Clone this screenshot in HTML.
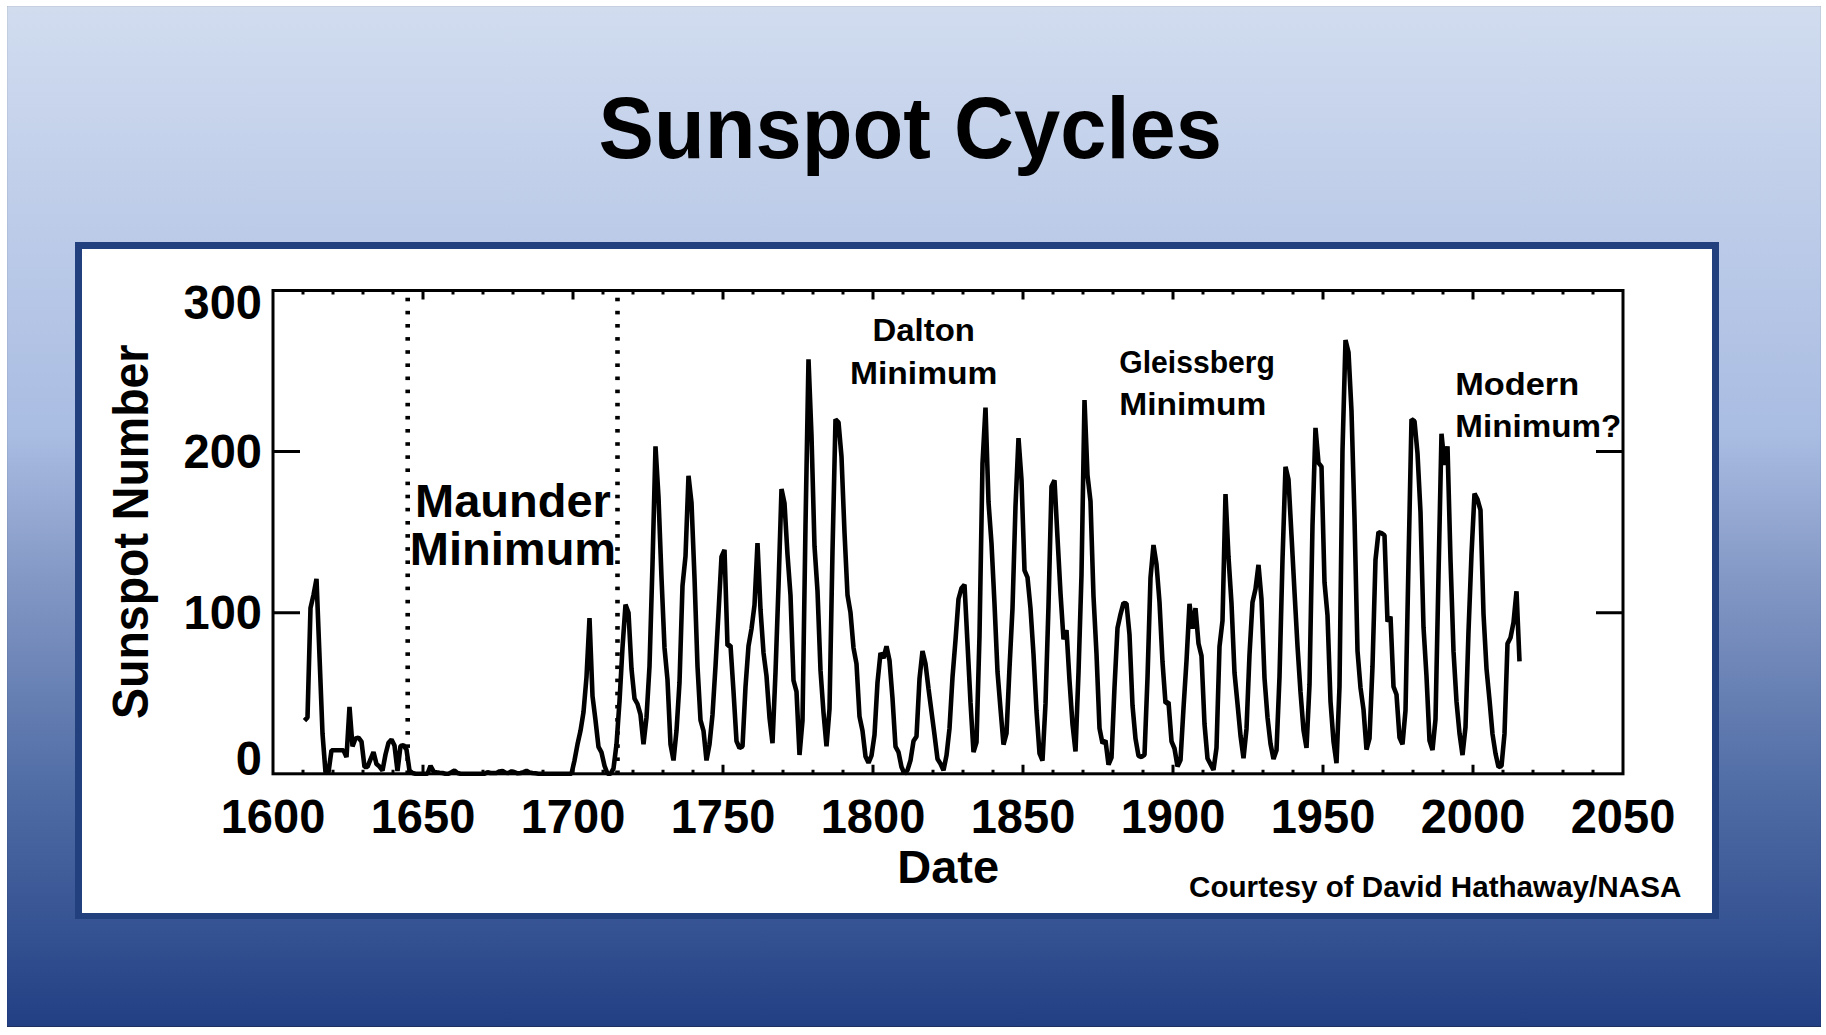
<!DOCTYPE html>
<html><head><meta charset="utf-8">
<style>
html,body{margin:0;padding:0;background:#fff;width:1826px;height:1035px;overflow:hidden}
svg{display:block;position:absolute;left:0;top:0}
text{font-family:"Liberation Sans",sans-serif;font-weight:bold;fill:#000}
</style></head><body>
<svg width="1826" height="1035" viewBox="0 0 1826 1035">
<defs>
<linearGradient id="bg" x1="0" y1="0" x2="0" y2="1">
<stop offset="0" stop-color="#D1DCEF"/>
<stop offset="0.42" stop-color="#A9BCE2"/>
<stop offset="0.565" stop-color="#8297C4"/>
<stop offset="0.75" stop-color="#5470A8"/>
<stop offset="1" stop-color="#223F84"/>
</linearGradient>
</defs>
<rect x="7" y="6" width="1814" height="1021" fill="url(#bg)"/>
<rect x="7" y="1026" width="1814" height="1" fill="#1E2F60"/>
<rect x="7" y="6" width="1814" height="1" fill="#C6D0E2"/>
<rect x="7" y="6" width="1" height="1021" fill="#000" fill-opacity="0.06"/>
<rect x="1820" y="6" width="1" height="1021" fill="#000" fill-opacity="0.06"/>
<text transform="translate(910.25,157.7) scale(0.953,1)" font-size="87.2" text-anchor="middle">Sunspot Cycles</text>
<rect x="75" y="242" width="1644" height="677" fill="#22407E"/>
<rect x="82" y="249" width="1630" height="664" fill="#fff"/>
<rect x="273" y="290.5" width="1350" height="483.3" fill="none" stroke="#000" stroke-width="3"/>
<path d="M303,773.8 v-4 M303,290.5 v4 M333,773.8 v-4 M333,290.5 v4 M363,773.8 v-4 M363,290.5 v4 M393,773.8 v-4 M393,290.5 v4 M423,773.8 v-9 M423,290.5 v9 M453,773.8 v-4 M453,290.5 v4 M483,773.8 v-4 M483,290.5 v4 M513,773.8 v-4 M513,290.5 v4 M543,773.8 v-4 M543,290.5 v4 M573,773.8 v-9 M573,290.5 v9 M603,773.8 v-4 M603,290.5 v4 M633,773.8 v-4 M633,290.5 v4 M663,773.8 v-4 M663,290.5 v4 M693,773.8 v-4 M693,290.5 v4 M723,773.8 v-9 M723,290.5 v9 M753,773.8 v-4 M753,290.5 v4 M783,773.8 v-4 M783,290.5 v4 M813,773.8 v-4 M813,290.5 v4 M843,773.8 v-4 M843,290.5 v4 M873,773.8 v-9 M873,290.5 v9 M903,773.8 v-4 M903,290.5 v4 M933,773.8 v-4 M933,290.5 v4 M963,773.8 v-4 M963,290.5 v4 M993,773.8 v-4 M993,290.5 v4 M1023,773.8 v-9 M1023,290.5 v9 M1053,773.8 v-4 M1053,290.5 v4 M1083,773.8 v-4 M1083,290.5 v4 M1113,773.8 v-4 M1113,290.5 v4 M1143,773.8 v-4 M1143,290.5 v4 M1173,773.8 v-9 M1173,290.5 v9 M1203,773.8 v-4 M1203,290.5 v4 M1233,773.8 v-4 M1233,290.5 v4 M1263,773.8 v-4 M1263,290.5 v4 M1293,773.8 v-4 M1293,290.5 v4 M1323,773.8 v-9 M1323,290.5 v9 M1353,773.8 v-4 M1353,290.5 v4 M1383,773.8 v-4 M1383,290.5 v4 M1413,773.8 v-4 M1413,290.5 v4 M1443,773.8 v-4 M1443,290.5 v4 M1473,773.8 v-9 M1473,290.5 v9 M1503,773.8 v-4 M1503,290.5 v4 M1533,773.8 v-4 M1533,290.5 v4 M1563,773.8 v-4 M1563,290.5 v4 M1593,773.8 v-4 M1593,290.5 v4 M273,612.7 h27 M1623,612.7 h-27 M273,451.6 h27 M1623,451.6 h-27" stroke="#000" stroke-width="3" fill="none"/>
<g fill="#000"><rect x="405.4" y="297.7" width="4.6" height="3.6"/><rect x="405.4" y="310.8" width="4.6" height="3.6"/><rect x="405.4" y="324.0" width="4.6" height="3.6"/><rect x="405.4" y="337.1" width="4.6" height="3.6"/><rect x="405.4" y="350.2" width="4.6" height="3.6"/><rect x="405.4" y="363.4" width="4.6" height="3.6"/><rect x="405.4" y="376.5" width="4.6" height="3.6"/><rect x="405.4" y="389.6" width="4.6" height="3.6"/><rect x="405.4" y="402.8" width="4.6" height="3.6"/><rect x="405.4" y="415.9" width="4.6" height="3.6"/><rect x="405.4" y="429.0" width="4.6" height="3.6"/><rect x="405.4" y="442.2" width="4.6" height="3.6"/><rect x="405.4" y="455.3" width="4.6" height="3.6"/><rect x="405.4" y="468.4" width="4.6" height="3.6"/><rect x="405.4" y="481.6" width="4.6" height="3.6"/><rect x="405.4" y="494.7" width="4.6" height="3.6"/><rect x="405.4" y="507.8" width="4.6" height="3.6"/><rect x="405.4" y="521.0" width="4.6" height="3.6"/><rect x="405.4" y="534.1" width="4.6" height="3.6"/><rect x="405.4" y="547.2" width="4.6" height="3.6"/><rect x="405.4" y="560.4" width="4.6" height="3.6"/><rect x="405.4" y="573.5" width="4.6" height="3.6"/><rect x="405.4" y="586.6" width="4.6" height="3.6"/><rect x="405.4" y="599.8" width="4.6" height="3.6"/><rect x="405.4" y="612.9" width="4.6" height="3.6"/><rect x="405.4" y="626.1" width="4.6" height="3.6"/><rect x="405.4" y="639.2" width="4.6" height="3.6"/><rect x="405.4" y="652.3" width="4.6" height="3.6"/><rect x="405.4" y="665.5" width="4.6" height="3.6"/><rect x="405.4" y="678.6" width="4.6" height="3.6"/><rect x="405.4" y="691.7" width="4.6" height="3.6"/><rect x="405.4" y="704.9" width="4.6" height="3.6"/><rect x="405.4" y="718.0" width="4.6" height="3.6"/><rect x="405.4" y="731.1" width="4.6" height="3.6"/><rect x="405.4" y="744.3" width="4.6" height="3.6"/><rect x="405.4" y="757.4" width="4.6" height="3.6"/><rect x="405.4" y="770.5" width="4.6" height="3.6"/><rect x="615.2" y="297.7" width="4.6" height="3.6"/><rect x="615.2" y="310.8" width="4.6" height="3.6"/><rect x="615.2" y="324.0" width="4.6" height="3.6"/><rect x="615.2" y="337.1" width="4.6" height="3.6"/><rect x="615.2" y="350.2" width="4.6" height="3.6"/><rect x="615.2" y="363.4" width="4.6" height="3.6"/><rect x="615.2" y="376.5" width="4.6" height="3.6"/><rect x="615.2" y="389.6" width="4.6" height="3.6"/><rect x="615.2" y="402.8" width="4.6" height="3.6"/><rect x="615.2" y="415.9" width="4.6" height="3.6"/><rect x="615.2" y="429.0" width="4.6" height="3.6"/><rect x="615.2" y="442.2" width="4.6" height="3.6"/><rect x="615.2" y="455.3" width="4.6" height="3.6"/><rect x="615.2" y="468.4" width="4.6" height="3.6"/><rect x="615.2" y="481.6" width="4.6" height="3.6"/><rect x="615.2" y="494.7" width="4.6" height="3.6"/><rect x="615.2" y="507.8" width="4.6" height="3.6"/><rect x="615.2" y="521.0" width="4.6" height="3.6"/><rect x="615.2" y="534.1" width="4.6" height="3.6"/><rect x="615.2" y="547.2" width="4.6" height="3.6"/><rect x="615.2" y="560.4" width="4.6" height="3.6"/><rect x="615.2" y="573.5" width="4.6" height="3.6"/><rect x="615.2" y="586.6" width="4.6" height="3.6"/><rect x="615.2" y="599.8" width="4.6" height="3.6"/><rect x="615.2" y="612.9" width="4.6" height="3.6"/><rect x="615.2" y="626.1" width="4.6" height="3.6"/><rect x="615.2" y="639.2" width="4.6" height="3.6"/><rect x="615.2" y="652.3" width="4.6" height="3.6"/><rect x="615.2" y="665.5" width="4.6" height="3.6"/><rect x="615.2" y="678.6" width="4.6" height="3.6"/><rect x="615.2" y="691.7" width="4.6" height="3.6"/><rect x="615.2" y="704.9" width="4.6" height="3.6"/><rect x="615.2" y="718.0" width="4.6" height="3.6"/><rect x="615.2" y="731.1" width="4.6" height="3.6"/><rect x="615.2" y="744.3" width="4.6" height="3.6"/><rect x="615.2" y="757.4" width="4.6" height="3.6"/><rect x="615.2" y="770.5" width="4.6" height="3.6"/></g>
<path d="M304.5,720.6 L307.5,717.4 L310.5,607.9 L313.5,595.0 L316.5,578.9 L319.5,656.2 L322.5,733.5 L325.5,772.2 L328.5,772.2 L331.5,750.3 L334.5,750.3 L337.5,750.3 L340.5,750.3 L343.5,750.3 L346.5,757.2 L349.5,706.8 L352.5,746.4 L355.5,738.4 L358.5,737.6 L361.5,741.6 L364.5,766.9 L367.5,766.9 L370.5,759.3 L373.5,752.1 L376.5,764.1 L379.5,766.6 L382.5,770.6 L385.5,754.5 L388.5,742.7 L391.5,739.5 L394.5,745.6 L397.5,771.1 L400.5,745.9 L403.5,745.1 L406.5,749.6 L409.5,770.6 L412.5,773.0 L415.5,773.8 L418.5,773.8 L421.5,773.8 L424.5,773.8 L427.5,773.8 L430.5,765.7 L433.5,771.4 L436.5,772.2 L439.5,772.7 L442.5,773.0 L445.5,773.8 L448.5,773.8 L451.5,772.2 L454.5,770.6 L457.5,773.0 L460.5,773.8 L463.5,773.8 L466.5,773.8 L469.5,773.8 L472.5,773.8 L475.5,773.8 L478.5,773.8 L481.5,773.8 L484.5,773.8 L487.5,772.2 L490.5,773.0 L493.5,773.0 L496.5,773.0 L499.5,771.4 L502.5,770.9 L505.5,772.7 L508.5,773.0 L511.5,771.4 L514.5,772.2 L517.5,773.3 L520.5,773.0 L523.5,772.2 L526.5,770.9 L529.5,772.5 L532.5,773.0 L535.5,773.3 L538.5,773.8 L541.5,773.8 L544.5,773.8 L547.5,773.8 L550.5,773.8 L553.5,773.8 L556.5,773.8 L559.5,773.8 L562.5,773.8 L565.5,773.8 L568.5,773.8 L571.5,773.8 L574.5,760.4 L577.5,744.3 L580.5,730.8 L583.5,712.1 L586.5,677.1 L589.5,618.0 L592.5,696.0 L595.5,720.2 L598.5,746.9 L601.5,752.4 L604.5,765.7 L607.5,773.8 L610.5,773.8 L613.5,768.5 L616.5,744.3 L619.5,701.3 L622.5,647.7 L625.5,604.6 L628.5,612.7 L631.5,669.1 L634.5,698.6 L637.5,704.0 L640.5,714.7 L643.5,744.3 L646.5,717.4 L649.5,666.3 L652.5,564.4 L655.5,446.3 L658.5,497.2 L661.5,577.7 L664.5,647.7 L667.5,679.9 L670.5,744.3 L673.5,760.4 L676.5,730.8 L679.5,682.5 L682.5,585.8 L685.5,556.3 L688.5,475.8 L691.5,502.7 L694.5,577.7 L697.5,666.3 L700.5,720.2 L703.5,730.8 L706.5,760.4 L709.5,744.3 L712.5,714.7 L715.5,666.3 L718.5,612.7 L721.5,556.6 L724.5,549.9 L727.5,645.7 L730.5,645.4 L733.5,691.3 L736.5,741.1 L739.5,748.0 L742.5,746.4 L745.5,686.8 L748.5,646.0 L751.5,628.8 L754.5,605.0 L757.5,543.1 L760.5,609.5 L763.5,652.7 L766.5,676.0 L769.5,717.7 L772.5,743.2 L775.5,672.3 L778.5,586.4 L781.5,489.0 L784.5,503.2 L787.5,554.7 L790.5,595.3 L793.5,680.4 L796.5,691.6 L799.5,755.0 L802.5,720.6 L805.5,525.4 L808.5,359.3 L811.5,435.8 L814.5,546.2 L817.5,591.0 L820.5,670.4 L823.5,712.6 L826.5,746.4 L829.5,709.0 L832.5,551.2 L835.5,419.4 L838.5,422.3 L841.5,456.8 L844.5,532.5 L847.5,595.0 L850.5,612.7 L853.5,647.8 L856.5,663.8 L859.5,716.6 L862.5,730.8 L865.5,756.6 L868.5,762.8 L871.5,755.6 L874.5,734.8 L877.5,682.5 L880.5,653.0 L883.5,658.1 L886.5,646.2 L889.5,660.5 L892.5,698.4 L895.5,746.7 L898.5,752.1 L901.5,767.0 L904.5,773.8 L907.5,770.1 L910.5,760.4 L913.5,741.1 L916.5,736.4 L919.5,678.8 L922.5,650.9 L925.5,663.8 L928.5,688.6 L931.5,711.8 L934.5,734.8 L937.5,759.0 L940.5,763.7 L943.5,770.3 L946.5,755.4 L949.5,728.4 L952.5,677.3 L955.5,640.1 L958.5,599.0 L961.5,588.2 L964.5,584.7 L967.5,643.6 L970.5,702.4 L973.5,752.2 L976.5,742.4 L979.5,635.6 L982.5,463.4 L985.5,407.6 L988.5,502.0 L991.5,543.4 L994.5,603.8 L997.5,671.8 L1000.5,708.9 L1003.5,744.6 L1006.5,733.4 L1009.5,667.8 L1012.5,608.4 L1015.5,505.9 L1018.5,438.2 L1021.5,479.8 L1024.5,570.3 L1027.5,577.3 L1030.5,608.4 L1033.5,654.4 L1036.5,711.0 L1039.5,753.3 L1042.5,760.6 L1045.5,703.9 L1048.5,605.6 L1051.5,486.6 L1054.5,480.3 L1057.5,537.6 L1060.5,593.2 L1063.5,639.3 L1066.5,630.1 L1069.5,680.7 L1072.5,724.3 L1075.5,751.4 L1078.5,672.6 L1081.5,574.7 L1084.5,400.0 L1087.5,475.3 L1090.5,501.2 L1093.5,596.4 L1096.5,653.8 L1099.5,728.2 L1102.5,743.4 L1105.5,740.5 L1108.5,764.6 L1111.5,757.7 L1114.5,687.3 L1117.5,628.0 L1120.5,614.3 L1123.5,602.9 L1126.5,603.4 L1129.5,634.8 L1132.5,705.5 L1135.5,738.7 L1138.5,755.8 L1141.5,757.0 L1144.5,754.8 L1147.5,677.9 L1150.5,577.7 L1153.5,545.0 L1156.5,564.4 L1159.5,602.1 L1162.5,662.0 L1165.5,703.2 L1168.5,702.3 L1171.5,741.3 L1174.5,748.5 L1177.5,766.4 L1180.5,760.1 L1183.5,708.1 L1186.5,660.9 L1189.5,603.8 L1192.5,628.6 L1195.5,608.2 L1198.5,643.5 L1201.5,655.9 L1204.5,724.0 L1207.5,758.5 L1210.5,764.1 L1213.5,769.9 L1216.5,747.9 L1219.5,646.5 L1222.5,620.8 L1225.5,494.1 L1228.5,557.0 L1231.5,603.5 L1234.5,672.8 L1237.5,703.7 L1240.5,735.6 L1243.5,758.2 L1246.5,728.9 L1249.5,654.6 L1252.5,602.2 L1255.5,589.0 L1258.5,564.9 L1261.5,599.5 L1264.5,678.1 L1267.5,717.3 L1270.5,743.8 L1273.5,759.0 L1276.5,750.3 L1279.5,676.8 L1282.5,559.9 L1285.5,466.7 L1288.5,479.6 L1291.5,535.4 L1294.5,591.8 L1297.5,646.2 L1300.5,692.0 L1303.5,730.1 L1306.5,747.9 L1309.5,684.7 L1312.5,525.2 L1315.5,427.9 L1318.5,462.9 L1321.5,466.6 L1324.5,582.3 L1327.5,615.4 L1330.5,701.3 L1333.5,741.4 L1336.5,763.2 L1339.5,686.5 L1342.5,450.5 L1345.5,340.0 L1348.5,352.2 L1351.5,411.2 L1354.5,517.7 L1357.5,650.7 L1360.5,687.8 L1363.5,709.5 L1366.5,749.6 L1369.5,738.4 L1372.5,666.2 L1375.5,559.7 L1378.5,532.1 L1381.5,533.1 L1384.5,535.4 L1387.5,621.7 L1390.5,616.6 L1393.5,686.6 L1396.5,694.5 L1399.5,737.6 L1402.5,744.2 L1405.5,710.5 L1408.5,562.8 L1411.5,419.2 L1414.5,421.2 L1417.5,453.4 L1420.5,512.2 L1423.5,627.2 L1426.5,676.3 L1429.5,740.6 L1432.5,750.0 L1435.5,719.2 L1438.5,575.6 L1441.5,433.7 L1444.5,464.8 L1447.5,446.3 L1450.5,559.5 L1453.5,651.2 L1456.5,701.5 L1459.5,733.4 L1462.5,755.1 L1465.5,727.2 L1468.5,631.5 L1471.5,554.2 L1474.5,493.6 L1477.5,499.3 L1480.5,510.2 L1483.5,613.8 L1486.5,668.6 L1489.5,700.0 L1492.5,734.0 L1495.5,753.5 L1498.5,767.0 L1501.5,766.1 L1504.5,733.7 L1507.5,643.6 L1510.5,637.7 L1513.5,622.4 L1516.5,591.3 L1519.5,661.4" stroke="#000" stroke-width="4.6" fill="none" stroke-linejoin="bevel"/>
<g font-size="47" text-anchor="end">
<text transform="translate(262,319) scale(1,1.03)">300</text>
<text transform="translate(262,468) scale(1,1.03)">200</text>
<text transform="translate(262,629.2) scale(1,1.03)">100</text>
<text transform="translate(262,775) scale(1,1.03)">0</text>
</g>
<g font-size="47" text-anchor="middle">
<text font-size="47" transform="translate(273,833) scale(1,1.03)">1600</text><text font-size="47" transform="translate(423,833) scale(1,1.03)">1650</text><text font-size="47" transform="translate(573,833) scale(1,1.03)">1700</text><text font-size="47" transform="translate(723,833) scale(1,1.03)">1750</text><text font-size="47" transform="translate(873,833) scale(1,1.03)">1800</text><text font-size="47" transform="translate(1023,833) scale(1,1.03)">1850</text><text font-size="47" transform="translate(1173,833) scale(1,1.03)">1900</text><text font-size="47" transform="translate(1323,833) scale(1,1.03)">1950</text><text font-size="47" transform="translate(1473,833) scale(1,1.03)">2000</text><text font-size="47" transform="translate(1623,833) scale(1,1.03)">2050</text>
<text x="948.2" y="883">Date</text>
<text x="513" y="517">Maunder</text>
<text x="513" y="565">Minimum</text>
</g>
<text font-size="46.5" text-anchor="middle" transform="translate(147.5,531.75) rotate(-90) scale(1,1.065)">Sunspot Number</text>
<text transform="translate(923.7,340.6) scale(1.062,1)" font-size="31" text-anchor="middle">Dalton</text>
<text transform="translate(923.7,384) scale(1.084,1)" font-size="31" text-anchor="middle">Minimum</text>
<text transform="translate(1119.3,372.7) scale(0.972,1)" font-size="31">Gleissberg</text>
<text transform="translate(1119.2,415.4) scale(1.082,1)" font-size="31">Minimum</text>
<text transform="translate(1455.2,395) scale(1.108,1)" font-size="31">Modern</text>
<text transform="translate(1455.3,436.5) scale(1.071,1)" font-size="31">Minimum?</text>
<text transform="translate(1189,897.2) scale(1.022,1)" font-size="29">Courtesy of David Hathaway/NASA</text>
</svg>
</body></html>
